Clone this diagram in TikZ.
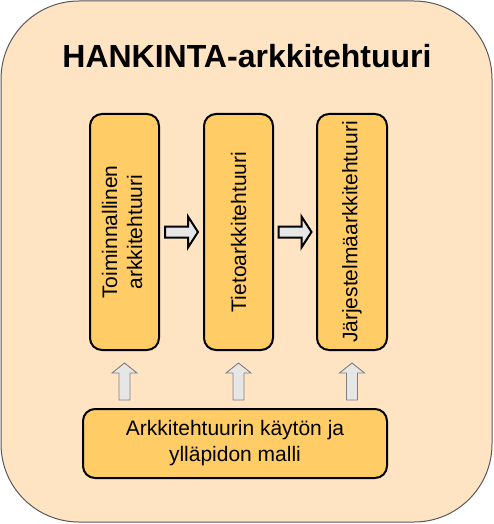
\documentclass[tikz,border=0pt]{standalone}
\usepackage{fontspec}
\setmainfont{Liberation Sans}
\usetikzlibrary{calc}
\definecolor{outerfill}{HTML}{FFE4C4}
\definecolor{boxfill}{HTML}{FFCC66}
\definecolor{arrfill}{HTML}{E6E6E6}
\tikzset{
  archbox/.style={draw=black, line width=2pt, fill=boxfill, rounded corners=12pt, inner sep=0pt, align=center,
    font=\fontsize{21}{26}\selectfont},
  uparr/.pic={\draw[draw=gray, line width=0.9pt, fill=arrfill, line join=miter]
      (0,-18.5) -- (12.5,-8.5) -- (5.5,-8.5) -- (5.5,18.5) -- (-5.5,18.5) -- (-5.5,-8.5) -- (-12.5,-8.5) -- cycle;},
  rightarr/.pic={\draw[draw=black, line width=2pt, fill=arrfill, line join=miter]
      (16.5,0) -- (6.5,-15.5) -- (6.5,-5.5) -- (-16.5,-5.5) -- (-16.5,5.5) -- (6.5,5.5) -- (6.5,15.5) -- cycle;}
}
\begin{document}
\begin{tikzpicture}[x=1pt,y=-1pt]
\useasboundingbox (0,0) rectangle (493,524);
\draw[draw=black!65, line width=1pt, fill=outerfill, rounded corners=78pt] (1,1) rectangle (492,522);
\node[font=\fontsize{32}{38}\selectfont\bfseries, anchor=base] (title) at (247,68) {HANKINTA-arkkitehtuuri};

\node[archbox, minimum width=69pt, minimum height=236pt] (b1) at (124.5,232)
  {\rotatebox{90}{\begin{tabular}{@{}c@{}}Toiminnallinen\\[-1pt]arkkitehtuuri\end{tabular}}};
\node[archbox, minimum width=69pt, minimum height=236pt] (b2) at (238.5,232)
  {\rotatebox{90}{Tietoarkkitehtuuri}};
\node[archbox, minimum width=70pt, minimum height=236pt] (b3) at (352,232)
  {\rotatebox{90}{Järjestelmäarkkitehtuuri}};

\node[archbox, minimum width=304pt, minimum height=69pt] (bot) at (235,443.5)
  {Arkkitehtuurin käytön ja\\ylläpidon malli};

% right arrows between boxes
\path (b1.east) -- (b2.west) coordinate[pos=0.5] (r1);
\path (b2.east) -- (b3.west) coordinate[pos=0.5] (r2);
\pic at (r1) {rightarr};
\pic at (r2) {rightarr};

% up arrows from bottom box to boxes
\path (b1.south) -- (bot.north -| b1.south) coordinate[pos=0.5] (u1);
\path (b2.south) -- (bot.north -| b2.south) coordinate[pos=0.5] (u2);
\path (b3.south) -- (bot.north -| b3.south) coordinate[pos=0.5] (u3);
\pic at ($(u1)+(0,2)$) {uparr};
\pic at ($(u2)+(0,2)$) {uparr};
\pic at ($(u3)+(0,2)$) {uparr};
\end{tikzpicture}
\end{document}
